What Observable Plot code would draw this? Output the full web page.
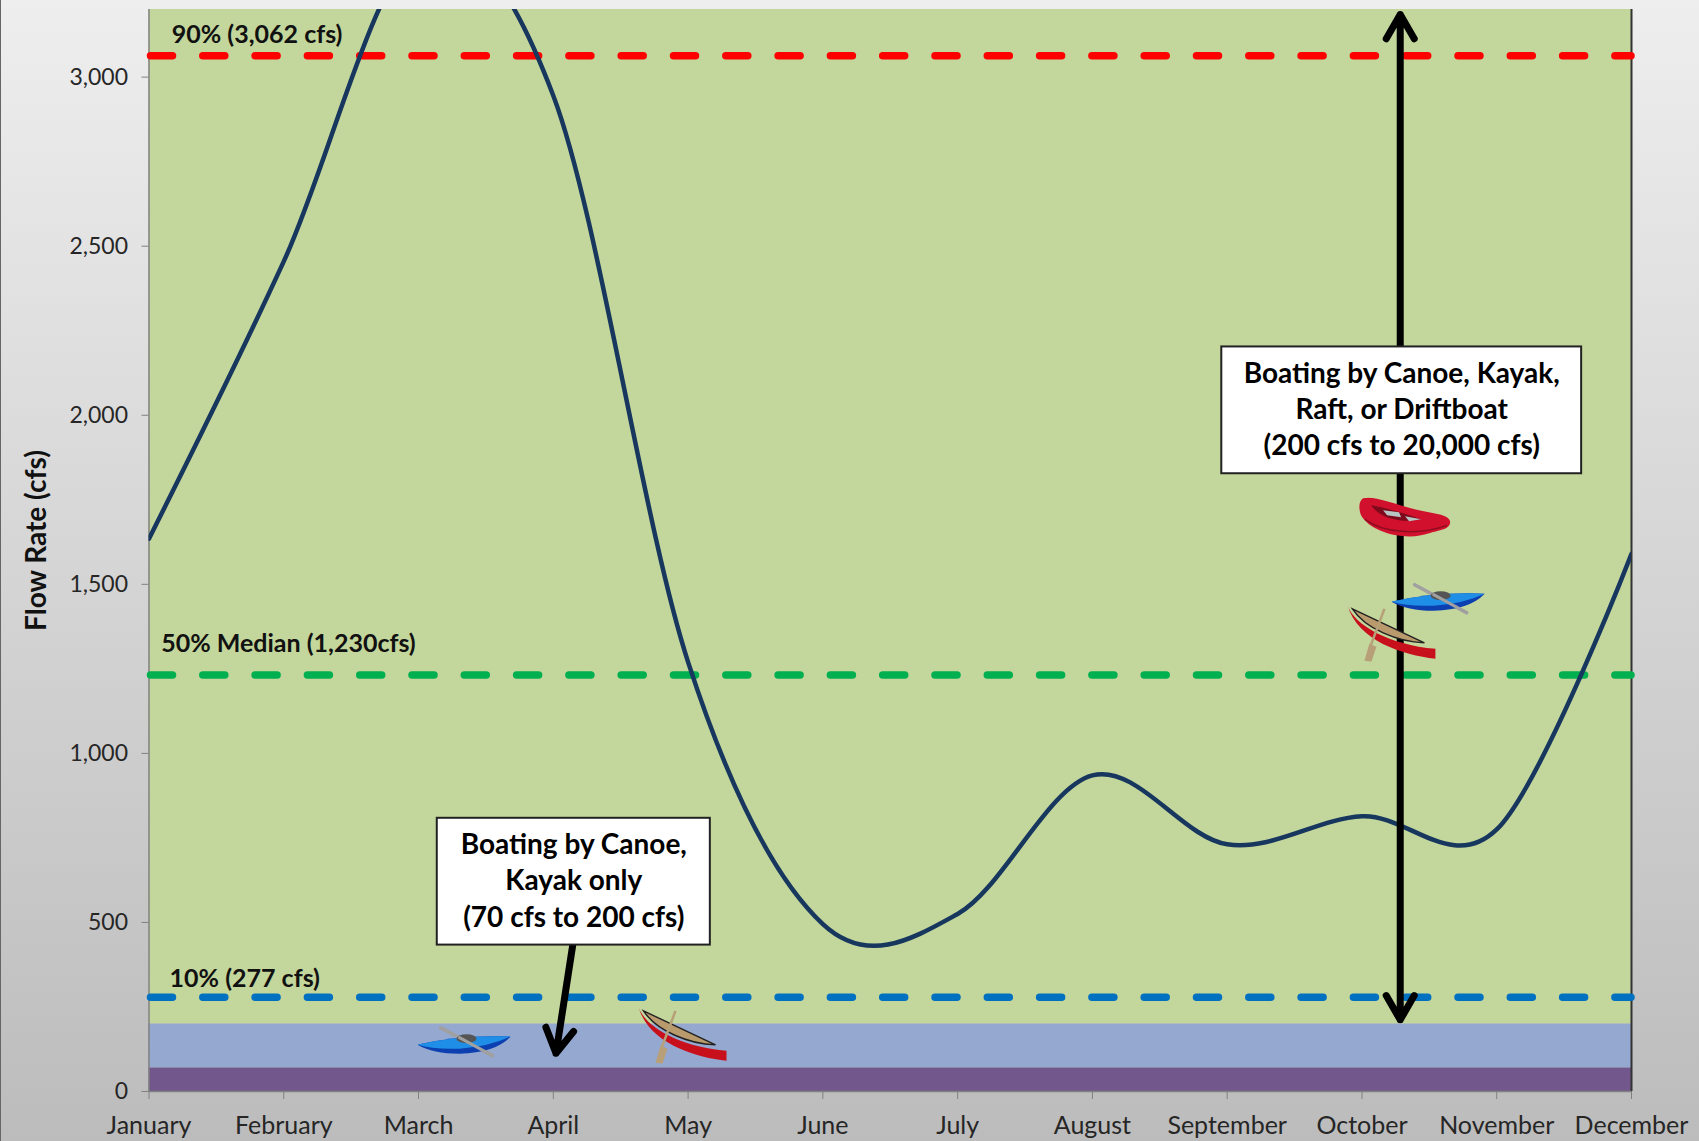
<!DOCTYPE html>
<html>
<head>
<meta charset="utf-8">
<script src="https://cdn.jsdelivr.net/npm/d3@7"></script>
<script src="https://cdn.jsdelivr.net/npm/@observablehq/plot@0.6"></script>
<style>
html,body{margin:0;padding:0;width:1699px;height:1141px;overflow:hidden;}
body{background:linear-gradient(#eeeeee,#bcbcbc);position:relative;}
#edge{position:absolute;left:0;top:0;width:1px;height:1141px;background:#666;}
svg{display:block;}
</style>
</head>
<body>
<div id="edge"></div>
<script>
const months = ["January","February","March","April","May","June","July","August","September","October","November","December"];
const flow = [1635,2455,3375,2945,1270,495,525,935,731,814,775,1590];
const yTicks = [0,500,1000,1500,2000,2500,3000];
const bandLow = [0,70,200];
const bandHigh = [70,200,3200];
const bandColors = ["#72578c","#94a8d0","#c3d69b"];
const refValues = [3062,1230,277];
const refColors = ["#ff0000","#00b050","#0070c0"];
const refLabels = ["90% (3,062 cfs)","50% Median (1,230cfs)","10% (277 cfs)"];
const refLabelX = [0.169,0.09,0.153];
const refLabelY = [3125,1324,333];
const boxText = ["Boating by Canoe, Kayak,\nRaft, or Driftboat\n(200 cfs to 20,000 cfs)","Boating by Canoe,\nKayak only\n(70 cfs to 200 cfs)"];
const boxX1 = [7.96,2.139];
const boxX2 = [10.63,4.165];
const boxY1 = [1827,433];
const boxY2 = [2202,808];
const arrowX1 = [9.284,9.284,3.144];
const arrowX2 = [9.284,9.284,3.02];
const arrowY1 = [1700,1700,433];
const arrowY2 = [3185,212,113];
const boatX = [9.32,9.569,9.226,2.341,3.966];
const boatY = [1698,1456,1355,146,166];
const boatKind = ["raft","kayak","canoe","kayak","canoe"];

const art = {
  kayak:{w:94,h:33,svg:`<line x1="23" y1="2" x2="75" y2="30" stroke="#a0a0a0" stroke-width="3.5" stroke-linecap="round"/><path d="M0 19 Q45 9 93 11 Q78 27 42 28 Q15 28 0 19Z" fill="#0c3fb0"/><path d="M0 19 Q45 9 93 11 Q72 21 42 23 Q15 24 0 19Z" fill="#1f8ee6"/><ellipse cx="49" cy="13" rx="10" ry="4.5" fill="#555"/><line x1="42" y1="12" x2="75" y2="30" stroke="#a0a0a0" stroke-width="3" stroke-linecap="round"/>`},
  canoe:{w:90,h:57,svg:`<path d="M0 0 C6 20 42 40 88 44 L88 54 C55 50 10 36 0 0Z" fill="#c8101c"/><path d="M5 4 L77 38 C50 37 18 24 5 4Z" fill="#b89a6c" stroke="#222" stroke-width="1.4"/><line x1="37" y1="4" x2="22" y2="44" stroke="#b7a078" stroke-width="2.5"/><path d="M17 56 L24 57 L29 42 L22 39Z" fill="#b7a078"/>`},
  raft:{w:92,h:40,svg:`<path d="M4 1 C14 -2 30 5 60 13 C72 16 90 17 91 24 C92 33 76 33 70 36 C48 44 12 36 2 18 C-1 10 0 4 4 1Z" fill="#d0102c"/><path d="M12 8 C28 11 50 17 62 22 C44 26 22 22 12 8Z" fill="#7c0a1c"/><path d="M24 13 L40 15 L42 20 L28 18Z M46 19 L62 22 L50 24Z" fill="#b8c4c4"/><path d="M6 22 C24 36 60 38 88 28" fill="none" stroke="#8e0c20" stroke-width="1.5"/>`}
};
const boats = boatX.map((x,i)=>{
  const a = art[boatKind[i]];
  return {x, y:boatY[i], w:a.w, h:a.h,
    src:"data:image/svg+xml,"+encodeURIComponent(`<svg xmlns="http://www.w3.org/2000/svg" viewBox="0 0 ${a.w} ${a.h}" width="${a.w}" height="${a.h}">${a.svg}</svg>`)};
});

const font = "Lato, 'Open Sans', sans-serif";
const chart = Plot.plot({
  width:1699, height:1141,
  marginLeft:148.5, marginRight:68, marginTop:9, marginBottom:50,
  style:{background:"transparent",fontFamily:font,fontSize:"24px",color:"#262626",overflow:"visible"},
  x:{domain:[0,11]},
  y:{domain:[0,3200]},
  marks:[
    ...bandLow.map((lo,i)=>Plot.rect([lo],{x1:0,x2:11,y1:d=>d,y2:()=>bandHigh[i],fill:bandColors[i]})),
    Plot.axisY({ticks:yTicks,tickFormat:d3.format(","),tickSize:7,tickPadding:14,label:null,stroke:"#808080",fontSize:23}),
    Plot.axisX({ticks:d3.range(12),tickFormat:i=>months[i],tickSize:8,tickPadding:16.5,label:null,stroke:"#808080",fontSize:25}),
    Plot.ruleX([0],{stroke:"#808080",strokeWidth:1.5}),
    Plot.ruleX([11],{stroke:"#333",strokeWidth:2}),
    Plot.ruleY([0],{stroke:"#808080",strokeWidth:1.5}),
    ...refValues.map((v,i)=>Plot.ruleY([v],{stroke:refColors[i],strokeWidth:7.5,strokeDasharray:"22,30.3",strokeDashoffset:-2,strokeLinecap:"round",dy:-0.5})),
    Plot.text(refLabels,{x:(d,i)=>refLabelX[i],y:(d,i)=>refLabelY[i],text:d=>d,textAnchor:"start",fontWeight:700,fontSize:25,fill:"#111"}),
    Plot.line(flow,{x:(d,i)=>i,y:d=>d,stroke:"#17375e",strokeWidth:4.5,curve:d3.curveCatmullRom.alpha(0),clip:"frame"}),
    Plot.arrow(arrowX1,{x1:d=>d,x2:(d,i)=>arrowX2[i],y1:(d,i)=>arrowY1[i],y2:(d,i)=>arrowY2[i],stroke:"#000",strokeWidth:7,headLength:6,headAngle:60}),
    Plot.rect(boxText,{x1:(d,i)=>boxX1[i],x2:(d,i)=>boxX2[i],y1:(d,i)=>boxY1[i],y2:(d,i)=>boxY2[i],fill:"#fff",stroke:"#222",strokeWidth:2}),
    Plot.text(boxText,{x:(d,i)=>(boxX1[i]+boxX2[i])/2,y:(d,i)=>(boxY1[i]+boxY2[i])/2,text:d=>d,fontWeight:700,fontSize:28,lineHeight:1.3,dy:-3,fill:"#000"}),
    Plot.text(["Flow Rate (cfs)"],{frameAnchor:"left",textAnchor:"middle",rotate:-90,dx:-112,dy:-10,fontWeight:700,fontSize:28,fill:"#111"}),
    Plot.image(boats,{x:"x",y:"y",src:"src",width:"w",height:"h",preserveAspectRatio:"none"})
  ]
});
document.body.appendChild(chart);
</script>
</body>
</html>
